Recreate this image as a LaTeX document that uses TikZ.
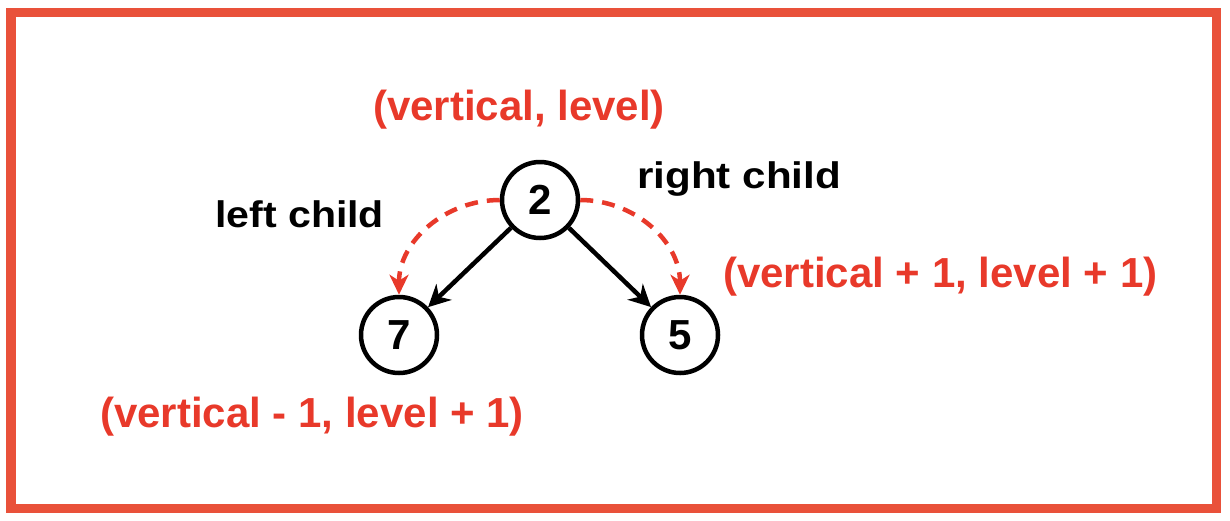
\documentclass[tikz,border=0pt]{standalone}
\usepackage{fontspec}
\setmainfont{Liberation Sans}
\usetikzlibrary{arrows.meta}
\definecolor{frameRed}{HTML}{E9513A}
\definecolor{txtRed}{HTML}{E8392A}
\tikzset{
  treenode/.style={circle, draw=black, line width=4.5pt, minimum size=76pt, inner sep=0pt,
    font=\fontsize{42}{42}\selectfont\bfseries},
  redlabel/.style={anchor=base west, inner sep=0pt, text=txtRed,
    font=\fontsize{42}{42}\selectfont\bfseries},
  blacklabel/.style={anchor=base west, inner sep=0pt, text=black,
    font=\fontsize{37}{37}\selectfont\bfseries},
  edge/.style={line width=4.5pt, draw=black, -{Stealth[length=22pt,width=22pt,inset=7pt]}},
  redarc/.style={line width=4.5pt, draw=txtRed, dash pattern=on 13pt off 9pt,
    -{Stealth[length=20pt,width=19pt,inset=6pt]}}
}
\begin{document}
\begin{tikzpicture}[x=1pt,y=-1pt]
\useasboundingbox (0,0) rectangle (1230,520);
\draw[frameRed, line width=9.5pt] (11,12.5) rectangle (1216.5,508.5);

\node[treenode] (n2) at (540,200) {2};
\node[treenode] (n7) at (399,335) {7};
\node[treenode] (n5) at (680,335) {5};

\draw[edge] (n2) -- (n7);
\draw[edge] (n2) -- (n5);

\draw[redarc] (n2.west) to[out=180,in=90] (n7.north);
\draw[redarc] (n2.east) to[out=0,in=90] (n5.north);

\node[redlabel] (lv) at (373,120) {(vertical, level)};
\node[redlabel] (lr) at (723,287) {(vertical + 1, level + 1)};
\node[redlabel] (ll) at (100,427) {(vertical - 1, level + 1)};
\node[blacklabel] (lc) at (215,227) {\scalebox{1.11}[1]{left child}};
\node[blacklabel] (rc) at (637,188) {\scalebox{1.14}[1]{right child}};
\end{tikzpicture}
\end{document}
